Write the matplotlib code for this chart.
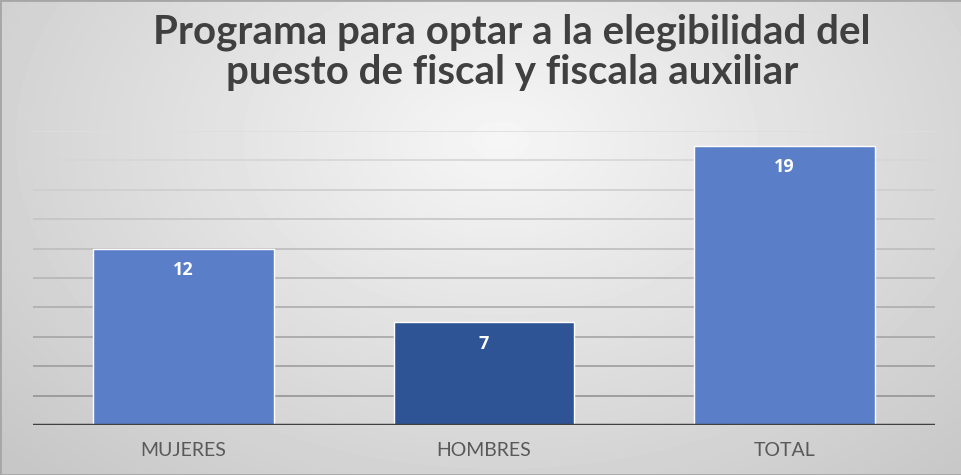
import numpy as np
import matplotlib.pyplot as plt

categories = ["MUJERES", "HOMBRES", "TOTAL"]
values = [12, 7, 19]
bar_colors = ["#5a7fc8", "#2e5496", "#5a7fc8"]
title = "Programa para optar a la elegibilidad del\npuesto de fiscal y fiscala auxiliar"

fig = plt.figure(figsize=(9.62, 4.75), dpi=100)

# radial grey background like the office chart style
bg = fig.add_axes([0, 0, 1, 1], zorder=-10)
yy, xx = np.mgrid[0:475, 0:962]
r = np.sqrt(((xx - 500) / 620.0) ** 2 + ((yy - 140) / 420.0) ** 2)
shade = np.clip(0.965 - 0.17 * r, 0.78, 0.965)
bg.imshow(shade, cmap="gray", vmin=0, vmax=1, aspect="auto",
          extent=[0, 1, 0, 1], origin="upper")
bg.plot([0, 1, 1, 0, 0], [0, 0, 1, 1, 0], color="#a6a6a6", lw=2,
        transform=bg.transAxes, clip_on=False)
bg.set_axis_off()

ax = fig.add_axes([33 / 962, 50 / 475, 902 / 962, 294 / 475])
ax.patch.set_alpha(0)

x = np.arange(len(categories))
for g in range(2, 21, 2):
    t = g / 20.0
    c = (0.55 + 0.32 * t,) * 3
    ax.axhline(g, color=c, lw=1.2, zorder=1)

bars = ax.bar(x, values, width=0.6, color=bar_colors, edgecolor="white",
              linewidth=1.0, zorder=2)
ax.axhline(0, color="#404040", lw=2.5, zorder=3)

for b, v in zip(bars, values):
    ax.annotate(str(v), (b.get_x() + b.get_width() / 2, v),
                xytext=(0, -15.5), textcoords="offset points",
                ha="center", va="center", color="white",
                fontsize=13, fontweight="bold", family="Open Sans")

ax.set_xlim(-0.5, 2.5)
ax.set_ylim(0, 20)
ax.set_yticks([])
ax.set_xticks(x)
ax.set_xticklabels(categories, fontsize=14, color="#595959", family="Lato")
ax.tick_params(axis="x", length=0, pad=12)
for s in ax.spines.values():
    s.set_visible(False)

fig.text(0.532, 0.889, title, ha="center", va="center", fontsize=29,
         fontweight="bold", color="#404040", family="Lato", linespacing=1.1)

fig.savefig("out.png", dpi=100)
